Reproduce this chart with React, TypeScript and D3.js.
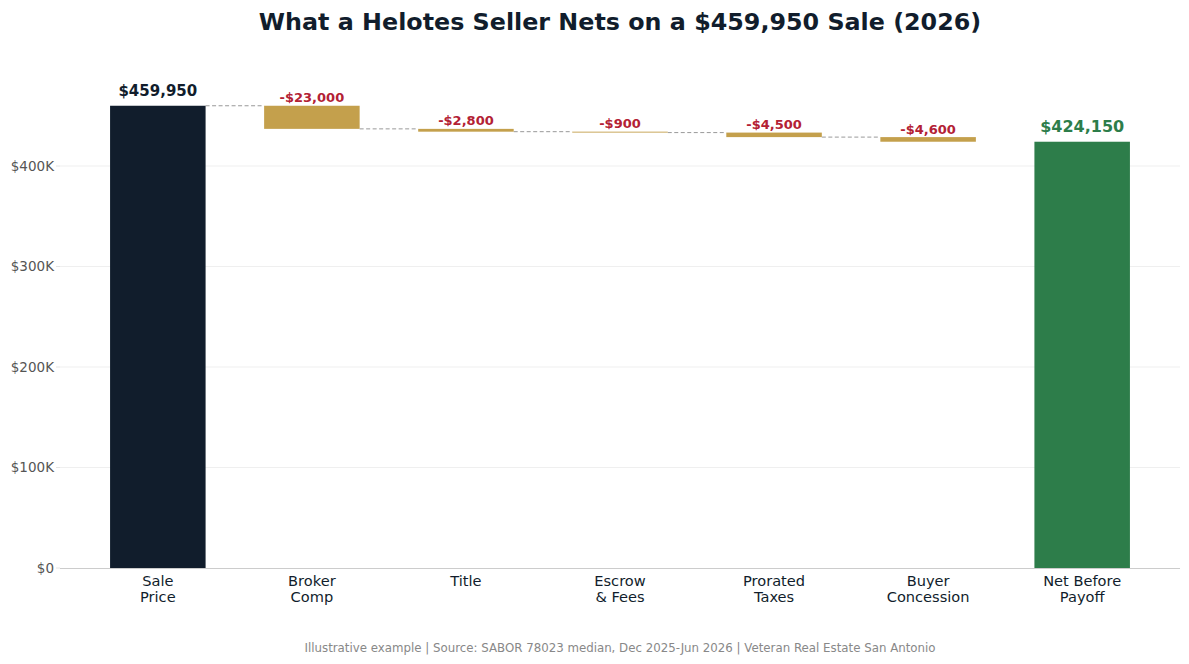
import React from "react";
import * as d3 from "d3";

const categories: string[][] = [
  ["Sale", "Price"],
  ["Broker", "Comp"],
  ["Title"],
  ["Escrow", "& Fees"],
  ["Prorated", "Taxes"],
  ["Buyer", "Concession"],
  ["Net Before", "Payoff"],
];
const salePrice = 459950;
const deductions = [23000, 2800, 900, 4500, 4600];
const yTicks = [0, 100000, 200000, 300000, 400000];

const W = 1189;
const H = 664;
const NAVY = "#111d2c";
const GOLD = "#c4a04c";
const GREEN = "#2d7d4a";
const RED = "#b32134";
const FONT = "DejaVu Sans, sans-serif";

export default function App() {
  const x = d3.scaleLinear().domain([-0.635, 6.635]).range([60, 1180]);
  const y = d3.scaleLinear().domain([0, 400000]).range([568, 166]);
  const bw = x(0.62) - x(0);

  const net = salePrice - d3.sum(deductions);
  type Bar = { i: number; top: number; bottom: number; color: string; label: string; kind: string };
  const bars: Bar[] = [];
  bars.push({ i: 0, top: salePrice, bottom: 0, color: NAVY, label: "$" + d3.format(",")(salePrice), kind: "start" });
  let run = salePrice;
  deductions.forEach((d, k) => {
    bars.push({ i: k + 1, top: run, bottom: run - d, color: GOLD, label: "-$" + d3.format(",")(d), kind: "ded" });
    run -= d;
  });
  bars.push({ i: 6, top: net, bottom: 0, color: GREEN, label: "$" + d3.format(",")(net), kind: "end" });

  // connectors between consecutive bars, not into the final total bar
  const connectors = bars.slice(0, -2).map((b, k) => {
    const level = b.kind === "start" ? b.top : b.bottom;
    return { x1: x(b.i) + bw / 2, x2: x(bars[k + 1].i) - bw / 2, y: y(level) };
  });

  return (
    <svg width={W} height={H} style={{ position: "absolute", left: 0, top: 0 }} fontFamily={FONT}>
      <rect width={W} height={H} fill="#fff" />
      {yTicks.map((t) => (
        <g key={t}>
          {t > 0 && <line x1={60} x2={1180} y1={y(t)} y2={y(t)} stroke="#ebebeb" strokeWidth={0.8} />}
          <line x1={56} x2={60} y1={y(t)} y2={y(t)} stroke="#dddddd" strokeWidth={0.8} />
          <text x={54} y={y(t)} dy="0.35em" textAnchor="end" fontSize={13.5} fill="#555">
            {t === 0 ? "$0" : "$" + t / 1000 + "K"}
          </text>
        </g>
      ))}
      <line x1={60} x2={1180} y1={568.5} y2={568.5} stroke="#cccccc" strokeWidth={1} />
      {connectors.map((c, k) => (
        <line key={k} x1={c.x1} x2={c.x2} y1={c.y} y2={c.y} stroke="#999" strokeWidth={1} strokeDasharray="4,2.5" />
      ))}
      {bars.map((b) => (
        <g key={b.i}>
          <rect x={x(b.i) - bw / 2} y={y(b.top)} width={bw} height={Math.max(y(b.bottom) - y(b.top), 0)} fill={b.color} />
          <text
            x={x(b.i)}
            y={y(b.top) - (b.kind === "ded" ? 3.5 : 10)}
            textAnchor="middle"
            fontWeight="bold"
            fontSize={b.kind === "ded" ? 13 : b.kind === "end" ? 16 : 15}
            fill={b.kind === "ded" ? RED : b.kind === "end" ? GREEN : NAVY}
          >
            {b.label}
          </text>
          {categories[b.i].map((ln, j) => (
            <text key={j} x={x(b.i)} y={586 + j * 16} textAnchor="middle" fontSize={14.6} fill={NAVY}>
              {ln}
            </text>
          ))}
        </g>
      ))}
      <text x={620} y={30} textAnchor="middle" fontSize={23.8} fontWeight="bold" fill={NAVY}>
        What a Helotes Seller Nets on a $459,950 Sale (2026)
      </text>
      <text x={620} y={652} textAnchor="middle" fontSize={11.8} fill="#888">
        Illustrative example | Source: SABOR 78023 median, Dec 2025-Jun 2026 | Veteran Real Estate San Antonio
      </text>
    </svg>
  );
}
